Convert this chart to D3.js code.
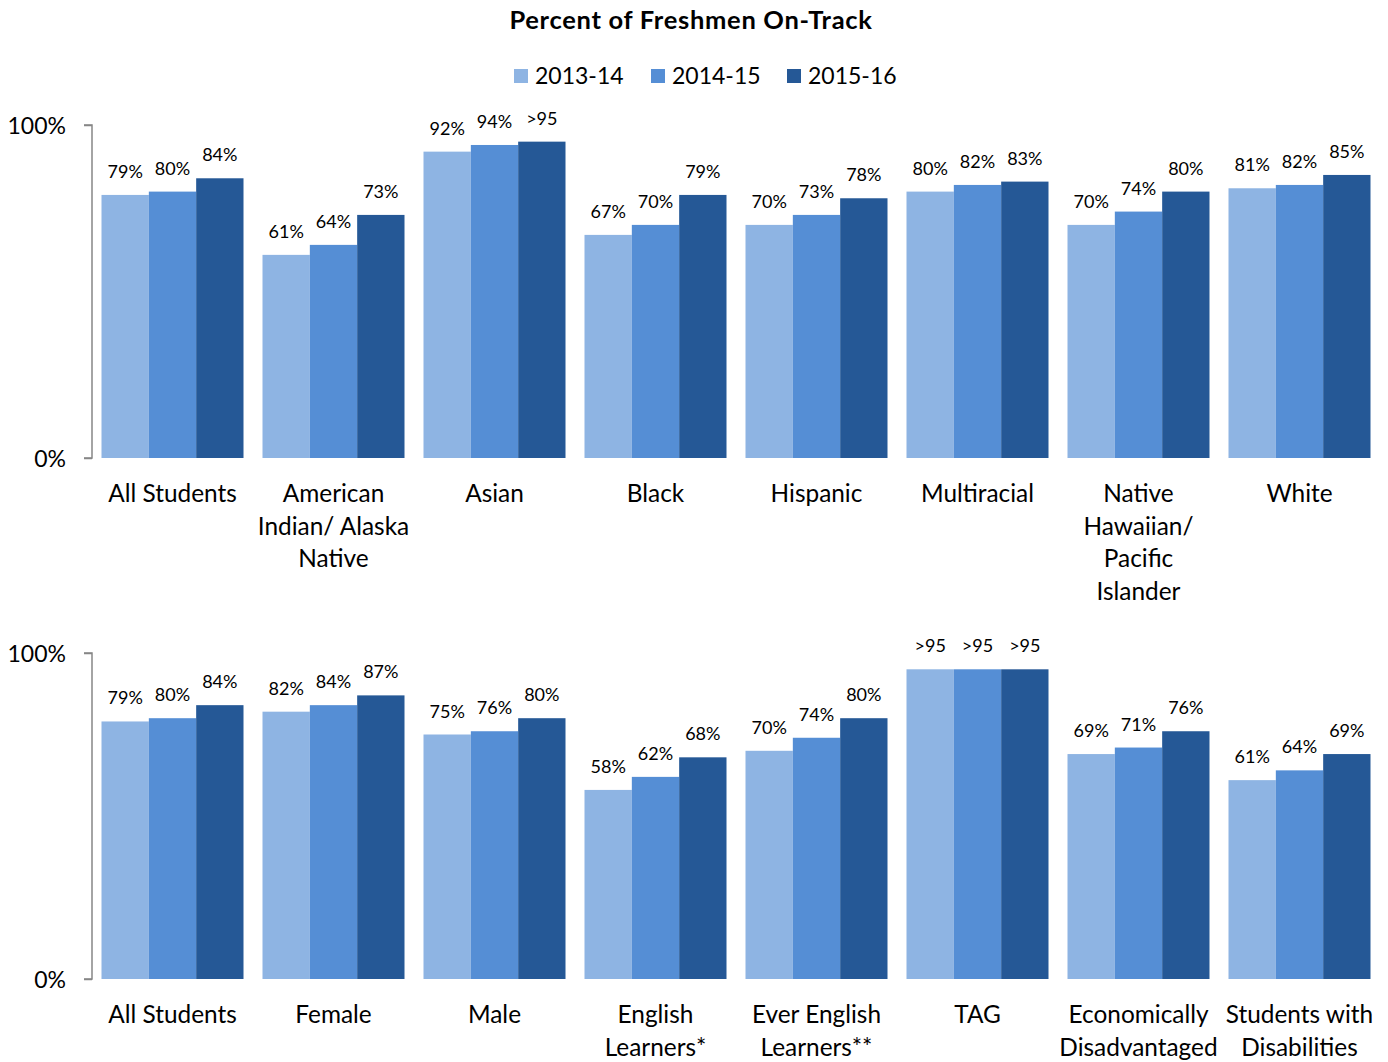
<!DOCTYPE html>
<html><head><meta charset="utf-8">
<script src="https://cdn.jsdelivr.net/npm/d3@7"></script>
<style>body{margin:0;background:#fff;} svg{display:block;font-family:Lato,"Noto Sans",sans-serif;}</style>
</head><body>
<script>
const series = ["2013-14", "2014-15", "2015-16"];
const colors = ["#8EB4E3", "#558ED5", "#255896"];

const topCategories = ["All Students", "American\nIndian/ Alaska\nNative", "Asian", "Black", "Hispanic", "Multiracial", "Native\nHawaiian/\nPacific\nIslander", "White"];
const top2013 = [79, 61, 92, 67, 70, 80, 70, 81];
const top2014 = [80, 64, 94, 70, 73, 82, 74, 82];
const top2015 = [84, 73, ">95", 79, 78, 83, 80, 85];

const botCategories = ["All Students", "Female", "Male", "English\nLearners*", "Ever English\nLearners**", "TAG", "Economically\nDisadvantaged", "Students with\nDisabilities"];
const bot2013 = [79, 82, 75, 58, 70, ">95", 69, 61];
const bot2014 = [80, 84, 76, 62, 74, ">95", 71, 64];
const bot2015 = [84, 87, 80, 68, 80, ">95", 76, 69];

const yTicks = [0, 100];
const W = 1388, H = 1062;

const svg = d3.select("body").append("svg").attr("width", W).attr("height", H);

svg.append("text").attr("x", 691).attr("y", 29).attr("text-anchor", "middle")
  .attr("font-size", 25.5).attr("letter-spacing", 0.7).attr("font-weight", "bold").attr("fill", "#000")
  .text("Percent of Freshmen On-Track");

// legend
const legX = [514, 651, 787];
const leg = svg.append("g");
series.forEach((s, i) => {
  leg.append("rect").attr("x", legX[i]).attr("y", 69).attr("width", 14).attr("height", 14).attr("fill", colors[i]);
  leg.append("text").attr("x", legX[i] + 21).attr("y", 84).attr("font-size", 23).attr("fill", "#000").text(s);
});

function numVal(v){ return typeof v === "string" ? +v.replace(/[^0-9.]/g, "") : v; }
function labVal(v){ return typeof v === "string" ? v : v + "%"; }

function panel(cats, vals, y0, y100) {
  const x0 = d3.scaleBand().domain(cats).range([92, 1380]).paddingInner(0.118).paddingOuter(0.059);
  const x1 = d3.scaleBand().domain(series).range([0, x0.bandwidth()]);
  const y = d3.scaleLinear().domain([0, 100]).range([y0, y100]);
  const g = svg.append("g");

  const axis = d3.axisLeft(y).tickValues(yTicks).tickSize(8).tickPadding(18).tickFormat(d => d + "%");
  const ag = g.append("g").attr("transform", "translate(92,0)").call(axis);
  ag.select(".domain").attr("stroke", "#868686").attr("stroke-width", 1.5).attr("d", `M-8,${y100}H0V${y0}H-8`);
  ag.selectAll(".tick line").attr("stroke", "#868686").attr("stroke-width", 1.5);
  ag.selectAll(".tick text").attr("font-size", 23).attr("fill", "#000").attr("font-family", "Lato,'Noto Sans',sans-serif").attr("dy", "0.35em");

  cats.forEach((c, ci) => {
    const gg = g.append("g").attr("transform", `translate(${x0(c)},0)`);
    series.forEach((s, si) => {
      const v = vals[si][ci];
      const n = numVal(v);
      gg.append("rect").attr("x", x1(s)).attr("y", y(n)).attr("width", x1.bandwidth()).attr("height", y(0) - y(n))
        .attr("fill", colors[si]);
      gg.append("text").attr("x", x1(s) + x1.bandwidth() / 2).attr("y", y(n) - 17)
        .attr("text-anchor", "middle").attr("font-size", 18).attr("fill", "#000").text(labVal(v));
    });
    const lines = c.split("\n");
    const t = gg.append("text").attr("x", x0.bandwidth() / 2).attr("y", y0 + 44).attr("text-anchor", "middle")
      .attr("font-size", 24.4).attr("fill", "#000");
    lines.forEach((l, li) => t.append("tspan").attr("x", x0.bandwidth() / 2).attr("dy", li === 0 ? 0 : 32.6).text(l));
  });
}

panel(topCategories, [top2013, top2014, top2015], 458, 125);
panel(botCategories, [bot2013, bot2014, bot2015], 979, 653);
</script>
</body></html>
